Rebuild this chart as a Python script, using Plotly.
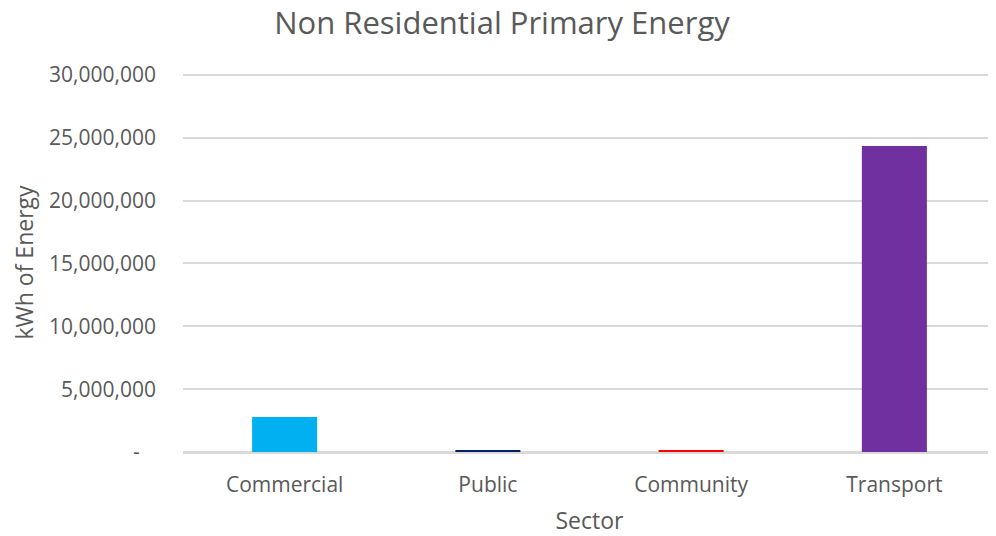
import plotly.graph_objects as go

categories = ["Commercial", "Public", "Community", "Transport"]
values = [2780000, 110000, 110000, 24350000]
colors = ["#00B0F0", "#002060", "#FF0000", "#7030A0"]
tick_vals = [0, 5000000, 10000000, 15000000, 20000000, 25000000, 30000000]
tick_text = ["-\u00a0\u00a0\u00a0", "5,000,000", "10,000,000", "15,000,000", "20,000,000", "25,000,000", "30,000,000"]

font_family = "Open Sans, Noto Sans, sans-serif"
fig = go.Figure(go.Bar(x=categories, y=values, marker=dict(color=colors, line=dict(width=0)), width=0.32))

# page body has an 8px margin, so the figure is 8px smaller and its margins shifted
fig.update_layout(
    width=988, height=528,
    margin=dict(l=175, r=0, t=65, b=84),
    paper_bgcolor="white", plot_bgcolor="white",
    font=dict(family=font_family, color="#595959", size=21),
    title=dict(text="Non Residential Primary Energy", x=0.5, xanchor="center", y=0.971, yref="container",
               yanchor="middle", font=dict(size=31, color="#595959", family=font_family)),
    showlegend=False,
    xaxis=dict(title=dict(text="Sector", font=dict(size=23), standoff=17), showgrid=False, automargin=False,
               showline=True, linecolor="#d9d9d9", linewidth=1.5, ticks="", ticklabelstandoff=13,
               tickfont=dict(size=21)),
    yaxis=dict(title=dict(text="kWh of Energy", font=dict(size=23), standoff=19), range=[0, 30150000],
               tickvals=tick_vals, ticktext=tick_text, gridcolor="#d9d9d9", gridwidth=1.5, automargin=False,
               zeroline=True, zerolinecolor="#d9d9d9", zerolinewidth=1.5, ticks="", ticklabelstandoff=26,
               tickfont=dict(size=21)),
)
fig.write_html("out.html")
